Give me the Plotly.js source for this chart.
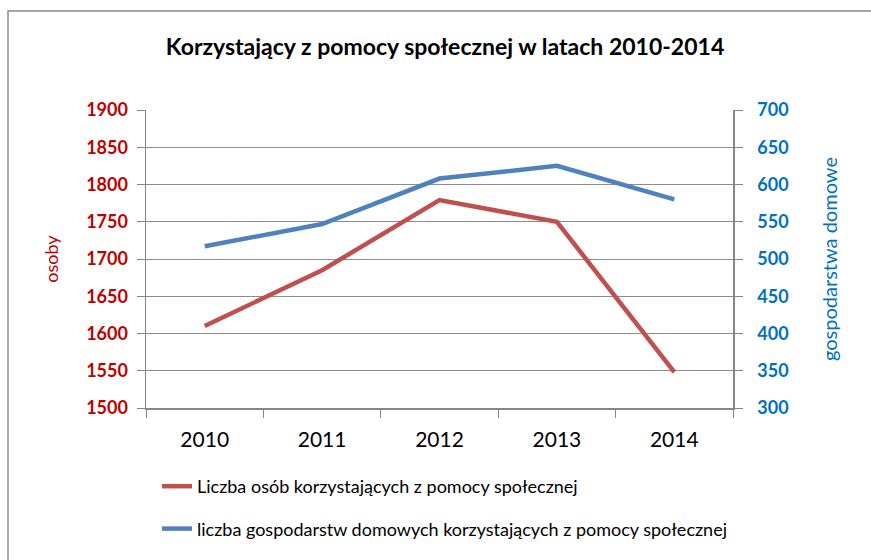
<!DOCTYPE html>
<html>
<head>
<meta charset="utf-8">
<script src="https://cdn.plot.ly/plotly-3.0.1.min.js"></script>
<style>
  html, body { margin: 0; padding: 0; background: #fff; }
  #chart { width: 871px; height: 560px; }
</style>
</head>
<body>
<div id="chart"></div>
<script>
const years = ['2010', '2011', '2012', '2013', '2014'];
const osoby = [1610, 1685, 1779, 1750, 1548];
const gospodarstwa = [517, 547, 608, 625, 580];
const nameOsoby = 'Liczba osób korzystających z pomocy społecznej';
const nameGosp = 'liczba gospodarstw domowych korzystających z pomocy społecznej';
const leftTicks = [1500, 1550, 1600, 1650, 1700, 1750, 1800, 1850, 1900];
const rightTicks = [300, 350, 400, 450, 500, 550, 600, 650, 700];

const FONT = 'Lato, "Open Sans", sans-serif';
const W = 871, H = 560;
const M = {l: 146, r: 138, t: 110, b: 152};
const pw = W - M.l - M.r, ph = H - M.t - M.b;
const px = x => (x - M.l) / pw;
const py = y => (H - M.b - y) / ph;

const traces = [
  {
    x: years, y: osoby, name: nameOsoby, type: 'scatter', mode: 'lines',
    line: {color: '#C0504D', width: 4.5}, yaxis: 'y', legendgroup: 'a'
  },
  {
    x: years, y: gospodarstwa, name: nameGosp, type: 'scatter', mode: 'lines',
    line: {color: '#4F81BD', width: 4.5}, yaxis: 'y2', legendgroup: 'b'
  }
];

const layout = {
  width: W, height: H,
  margin: M,
  paper_bgcolor: '#fff', plot_bgcolor: '#fff',
  font: {family: FONT, size: 16, color: '#000'},
  title: {
    text: '<b>Korzystający z pomocy społecznej w latach 2010-2014</b>',
    font: {family: FONT, size: 23, color: '#000'},
    x: px(445), xref: 'paper', xanchor: 'center', y: 1 - 47 / H, yanchor: 'middle'
  },
  xaxis: {
    type: 'category', range: [-0.5, 4.5],
    tickson: 'boundaries', ticks: 'outside', ticklen: 8, tickcolor: '#868686',
    showline: true, linecolor: '#868686', linewidth: 1.5,
    showgrid: false, zeroline: false, ticklabelstandoff: 12,
    tickfont: {family: FONT, size: 21, color: '#000'}
  },
  yaxis: {
    range: [1500, 1900], tickvals: leftTicks,
    ticktext: leftTicks.map(v => '<b>' + v + '</b>'),
    ticks: 'outside', ticklen: 8,
    tickcolor: '#868686', showline: true, linecolor: '#868686', linewidth: 1.5,
    showgrid: true, gridcolor: '#8c8c8c', gridwidth: 1, zeroline: false,
    ticklabelstandoff: 5,
    tickfont: {family: FONT, size: 18, color: '#C00000'},
    title: {text: 'osoby', font: {family: FONT, size: 18, color: '#C00000'}, standoff: 23}
  },
  yaxis2: {
    range: [300, 700], tickvals: rightTicks,
    ticktext: rightTicks.map(v => '\u2002\u2009<b>' + v + '</b>'),
    overlaying: 'y', side: 'right',
    ticks: 'outside', ticklen: 8, tickcolor: '#868686',
    showline: true, linecolor: '#868686', linewidth: 1.5,
    showgrid: false, zeroline: false,
    tickfont: {family: FONT, size: 18, color: '#0070C0'},
    title: {text: 'gospodarstwa domowe', font: {family: FONT, size: 20, color: '#0070C0'}, standoff: 35}
  },
  legend: {
    orientation: 'v', x: px(157), xanchor: 'left', y: py(468), yanchor: 'top',
    font: {family: FONT, size: 18, color: '#000'}, tracegroupgap: 16,
    bgcolor: 'rgba(0,0,0,0)'
  },
  showlegend: true,
  shapes: [
    {type: 'rect', xref: 'paper', yref: 'paper', x0: px(8), x1: px(880), y0: py(570), y1: py(11),
     line: {color: '#8c8c8c', width: 1.5}, fillcolor: 'rgba(0,0,0,0)', layer: 'below'}
  ]
};

Plotly.newPlot('chart', traces, layout, {displayModeBar: false, staticPlot: true});
</script>
</body>
</html>
